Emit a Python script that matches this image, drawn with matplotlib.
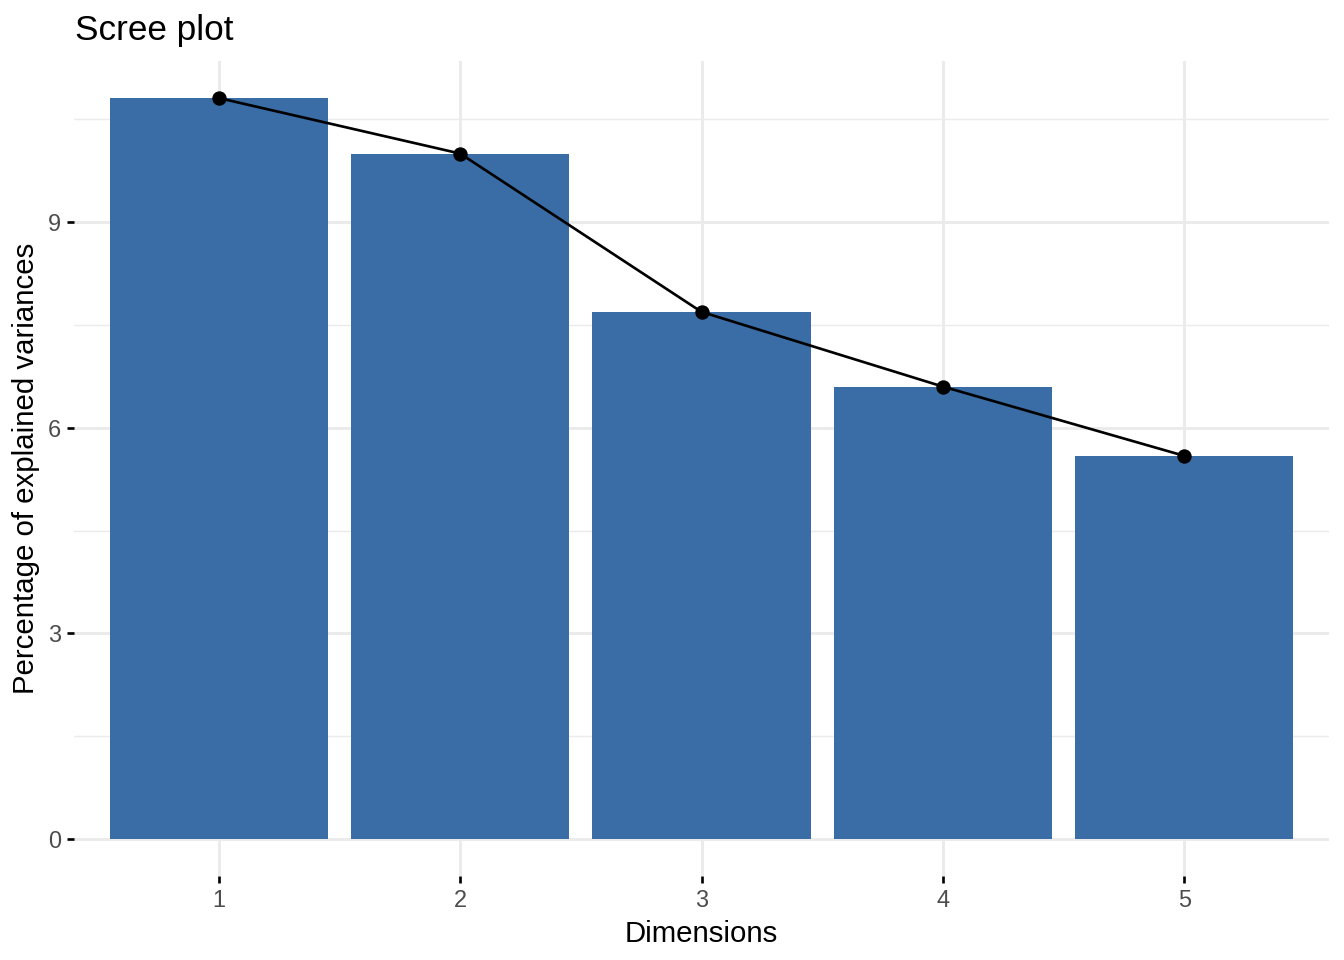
import matplotlib
matplotlib.use("Agg")
import matplotlib.pyplot as plt
import numpy as np

plt.rcParams['font.family'] = ['Liberation Sans', 'DejaVu Sans']

dimensions = ["1", "2", "3", "4", "5"]
variances = [10.81, 10.00, 7.69, 6.60, 5.59]
yticks = [0, 3, 6, 9]

bar_color = "#3A6DA5"
grid_color = "#EBEBEB"
text_grey = "#4D4D4D"

fig = plt.figure(figsize=(7, 5), dpi=192)
ax = fig.add_axes([74/1344, 1 - 876/960, (1329-74)/1344, (876-61)/960])

x = np.arange(1, len(dimensions) + 1)
ax.bar(x, variances, width=0.905, color=bar_color, linewidth=0, zorder=2)
ax.plot(x, variances, color="black", linewidth=1.0, zorder=3)
ax.plot(x, variances, "o", color="black", markersize=4.4, zorder=4)

ymax = max(variances)
pad = ymax * 0.05
ax.set_ylim(-pad, ymax + pad)
ax.set_xlim(0.4, len(dimensions) + 0.6)

ax.set_xticks(x)
ax.set_xticklabels(dimensions)
ax.set_yticks(yticks)
ax.set_yticks([1.5, 4.5, 7.5, 10.5], minor=True)

ax.grid(True, which='major', color=grid_color, linewidth=1.1, zorder=0)
ax.grid(True, which='minor', axis='y', color=grid_color, linewidth=0.55, zorder=0)
ax.set_axisbelow(True)
for s in ax.spines.values():
    s.set_visible(False)

ax.tick_params(axis='both', which='major', length=2.75, width=1.0, color='black',
               labelsize=8.8, labelcolor=text_grey, pad=2.2)
ax.tick_params(axis='both', which='minor', length=0)

ax.set_xlabel("Dimensions", fontsize=11, color="black", labelpad=3)
ax.set_ylabel("Percentage of explained variances", fontsize=11, color="black", labelpad=2.8)
fig.text(75/1344, 1 - 40/960, "Scree plot", fontsize=13.2, color="black",
         ha='left', va='baseline')

fig.savefig("out.png", dpi=192, facecolor="white")
